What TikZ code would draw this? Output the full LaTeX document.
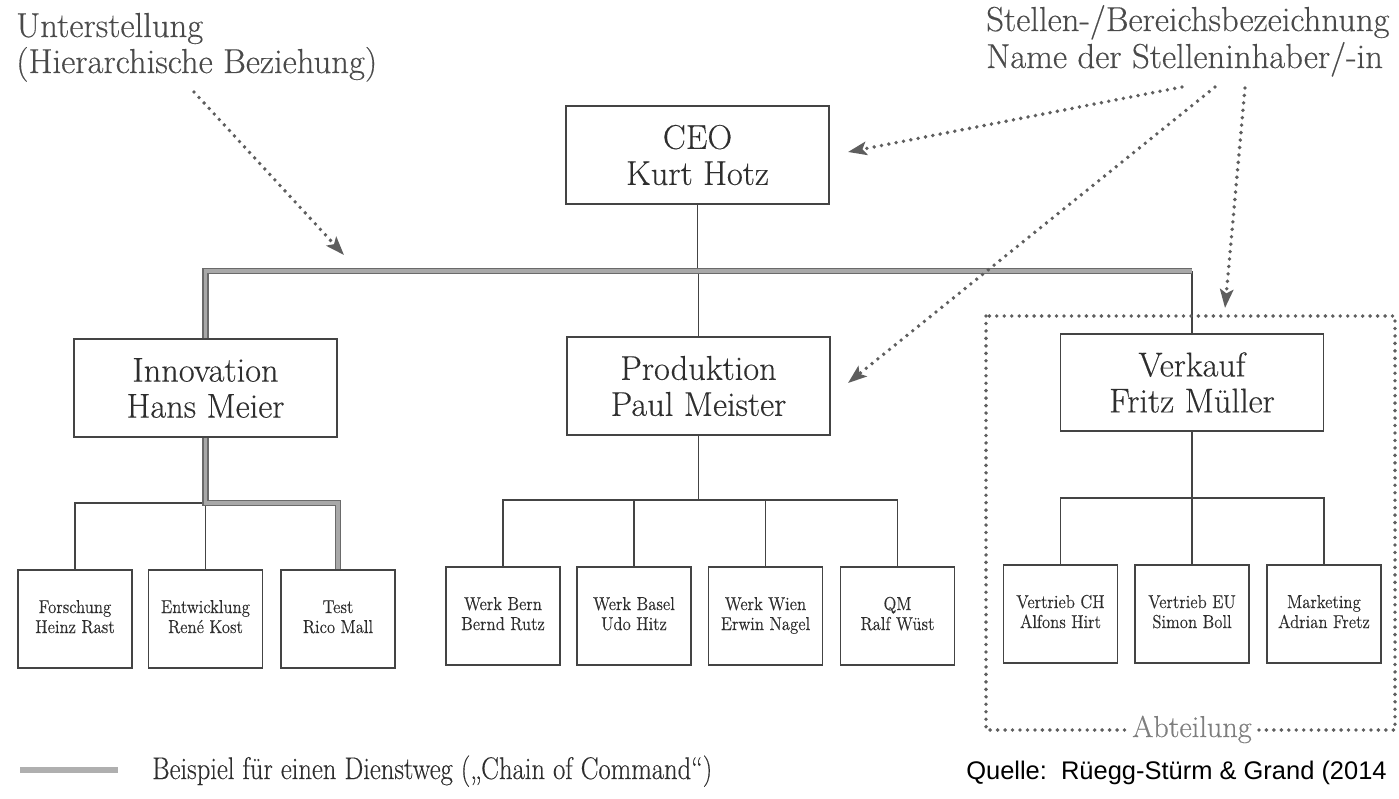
\documentclass[tikz,border=0pt]{standalone}
\usepackage{fontspec}
\setmainfont{Latin Modern Roman}[FakeBold=0.3]
\newfontfamily\quellefont{Liberation Sans}
\usetikzlibrary{arrows.meta,calc}
\definecolor{ink}{HTML}{2E2E2E}
\definecolor{lbl}{HTML}{4A4A4A}
\definecolor{linec}{HTML}{444444}
\definecolor{chain}{HTML}{A8A8A8}
\definecolor{chainedge}{HTML}{6A6A6A}
\definecolor{dotc}{HTML}{5E5E5E}
\definecolor{abt}{HTML}{7E7E7E}
\definecolor{legbar}{HTML}{AFAFAF}
\newcommand{\sqz}[1]{\scalebox{0.9}[1]{\begin{tabular}{@{}c@{}}#1\end{tabular}}}
\begin{document}
\begin{tikzpicture}[x=0.75pt,y=-0.75pt,
  bigbox/.style={draw=linec, line width=1.3pt, inner sep=0pt, minimum width=197.25pt, minimum height=73pt,
     text=ink, align=center, font=\fontsize{25.8pt}{27pt}\selectfont},
  smallbox/.style={draw=linec, line width=1.3pt, inner sep=0pt, minimum width=85.5pt, minimum height=73pt,
     text=ink, font=\fontsize{14pt}{15pt}\selectfont},
  conn/.style={draw=linec, line width=1.3pt},
  chainline/.style={draw=chainedge, line width=1.1pt, double=chain, double distance=2.8pt},
  dotline/.style={draw=dotc, line width=2.9pt, dash pattern=on 0pt off 5.6pt, line cap=round},
  dotarrow/.style={dotline, -{Stealth[length=14pt, width=10pt, inset=3pt]}},
  lbltext/.style={text=lbl, inner sep=0pt, font=\fontsize{26pt}{28pt}\selectfont}
]
\useasboundingbox (0,0) rectangle (1399,799);
\fill[white] (0,0) rectangle (1399,799);

% main boxes
\node[bigbox] (ceo)  at (697.5,155) {CEO\\Kurt Hotz};
\node[bigbox] (inno) at (205.5,388) {Innovation\\Hans Meier};
\node[bigbox] (prod) at (698.5,386) {Produktion\\Paul Meister};
\node[bigbox] (verk) at (1192,382.5) {Verkauf\\Fritz Müller};

% small boxes
\node[smallbox] (fors)   at (75,619)    {\sqz{Forschung\\Heinz Rast}};
\node[smallbox] (entw)   at (205.5,619) {\sqz{Entwicklung\\René Kost}};
\node[smallbox] (test)   at (338,619)   {\sqz{Test\\Rico Mall}};
\node[smallbox] (wbern)  at (503,616)   {\sqz{Werk Bern\\Bernd Rutz}};
\node[smallbox] (wbasel) at (634,616)   {\sqz{Werk Basel\\Udo Hitz}};
\node[smallbox] (wwien)  at (765.5,616) {\sqz{Werk Wien\\Erwin Nagel}};
\node[smallbox] (qm)     at (897.5,616) {\sqz{QM\\Ralf Wüst}};
\node[smallbox] (vch)    at (1060.5,614){\sqz{Vertrieb CH\\Alfons Hirt}};
\node[smallbox] (veu)    at (1192,614)  {\sqz{Vertrieb EU\\Simon Boll}};
\node[smallbox] (mkt)    at (1324,614)  {\sqz{Marketing\\Adrian Fretz}};

% junction levels
\coordinate (bar)  at (0,271);
\coordinate (isub) at (0,503);
\coordinate (psub) at (0,500);
\coordinate (vsub) at (0,498);

% thin connectors
\draw[conn] (ceo.south) -- (ceo.south |- bar);
\draw[conn] (prod.north) -- (prod.north |- bar);
\draw[conn] (verk.north) -- (verk.north |- bar);
\draw[conn] (fors.north) -- (fors.north |- isub) -- (inno.south |- isub);
\draw[conn] (entw.north) -- (entw.north |- isub);
\draw[conn] (wbern.north) -- (wbern.north |- psub) -- (qm.north |- psub) -- (qm.north);
\draw[conn] (wbasel.north) -- (wbasel.north |- psub);
\draw[conn] (wwien.north) -- (wwien.north |- psub);
\draw[conn] (prod.south) -- (prod.south |- psub);
\draw[conn] (vch.north) -- (vch.north |- vsub) -- (mkt.north |- vsub) -- (mkt.north);
\draw[conn] (verk.south) -- (veu.north);

% chain of command
\draw[chainline] (inno.north) -- (inno.north |- bar) -- (verk.north |- bar);
\draw[chainline] (inno.south) -- (inno.south |- isub) -- (test.north |- isub) -- (test.north);

% department frame
\coordinate (abtNW) at (986,316);
\coordinate (abtSE) at (1395,730);
\draw[dotline] (abtNW) rectangle (abtSE);
\node[fill=white, inner xsep=3pt, inner ysep=1pt, anchor=base, text=abt,
      font=\fontsize{22.7pt}{24pt}\selectfont] (abteil) at (1192,737) {Abteilung};

% labels
\node[lbltext, anchor=base west] (unter) at (16,37) {Unterstellung};
\node[lbltext, anchor=base west] (hier)  at (16,73) {(Hierarchische Beziehung)};
\node[lbltext, anchor=base west] (stel)  at (986,31) {Stellen-/Bereichsbezeichnung};
\node[lbltext, anchor=base west] (name)  at (986,68) {Name der Stelleninhaber/-in};

% annotation arrows
\coordinate (s0) at (194,92);    \coordinate (t0) at (344,255);
\coordinate (s1) at (1182,87);   \coordinate (t1) at (848,152);
\coordinate (s2) at (1215,87);   \coordinate (t2) at (848,383);
\coordinate (s3) at (1245,88);   \coordinate (t3) at (1225,308);
\draw[dotarrow] (s0) -- (t0);
\draw[dotarrow] (s1) -- (t1);
\draw[dotarrow] (s2) -- (t2);
\draw[dotarrow] (s3) -- (t3);

% legend
\coordinate (lg0) at (20,770);
\coordinate (lg1) at (118,770);
\draw[draw=legbar, line width=3.8pt] (lg0) -- (lg1);
\node[anchor=base west, inner sep=0pt, text=ink] (legtext) at (152,779)
  {\scalebox{0.85}[1]{\fontsize{23.5pt}{26pt}\selectfont Beispiel für einen Dienstweg („Chain of Command“)}};
\node[anchor=base west, inner sep=0pt, text=black] (quelle) at (966,779)
  {\quellefont\fontsize{19.1pt}{22pt}\selectfont Quelle:\ \ Rüegg-Stürm \& Grand (2014};
\end{tikzpicture}
\end{document}
